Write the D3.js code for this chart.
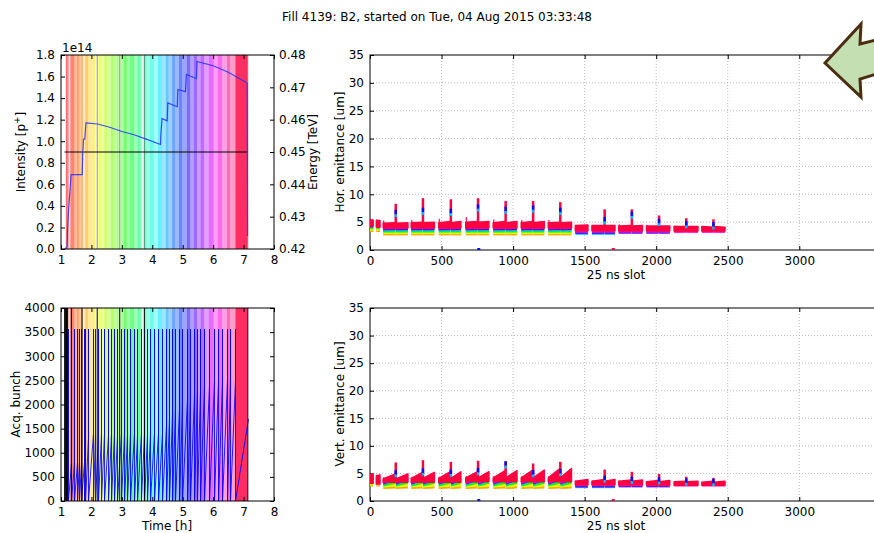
<!DOCTYPE html>
<html><head><meta charset="utf-8">
<script src="https://cdn.jsdelivr.net/npm/d3@7"></script>
<style>body{margin:0;background:#fff}svg{display:block}text{font-family:"DejaVu Sans",sans-serif;fill:#000}</style>
</head><body>
<svg id="c" width="874" height="533"></svg>
<script>
// ---------------- DATA ----------------
const titleText = "Fill 4139: B2, started on Tue, 04 Aug 2015 03:33:48";
// acquisition start times [h]
const acqTimes = [1.16,1.22,1.33,1.44,1.52,1.60,1.66,1.74,1.80,1.89,
  2.04,2.12,2.23,2.32,2.42,2.53,2.64,2.74,2.85,2.97,
  3.06,3.16,3.27,3.40,3.51,3.62,3.72,3.81,3.92,4.05,
  4.18,4.32,4.44,4.54,4.65,4.76,4.87,4.98,5.14,5.25,
  5.36,5.47,5.58,5.71,5.85,6.02,6.15,6.29,6.45,6.56,6.73];
const lastAcqEnd = 7.13;
// highest acquired bunch in each acquisition
const acqMaxSlot = [700,800,800,800,800,800,800,800,1300,1400,
  1400,1350,1400,1400,1350,1400,1400,1350,1400,1400,
  1350,1400,1400,1350,1400,1400,1350,1400,1400,1400,
  1400,1550,1700,1800,1900,1900,2000,2100,2100,2200,
  2300,2300,2400,2400,2500,2500,2500,2500,2500,2500,1700];
const pauseStart = [1.26, 1.73, 2.13, 2.89, 3.66];
const pauseEnd   = [1.29, 1.77, 2.19, 2.96, 3.72];
const markTimes  = [1.12,1.14,1.16,1.18,1.21,1.34,1.69,2.19,2.93,3.74,7.14];
// beam intensity [1e14 p]
const intTime = [1.12,1.20,1.22,1.25,1.29,1.33,1.70,1.71,1.74,1.78,1.82,2.2,2.6,3.0,3.4,3.8,4.27,4.28,4.32,4.49,4.51,4.82,4.84,5.09,5.12,5.45,5.47,6.0,6.5,7.12,7.13];
const intVal  = [0.0,0.02,0.2,0.37,0.52,0.69,0.69,0.85,1.02,1.02,1.17,1.16,1.13,1.09,1.06,1.02,0.97,1.05,1.21,1.19,1.355,1.32,1.48,1.46,1.62,1.58,1.74,1.70,1.64,1.54,0.12];
const energyTime = [1.12, 7.15];
const energyVal  = [0.45, 0.45];
// axis ticks
const intTicks = [0,0.2,0.4,0.6,0.8,1.0,1.2,1.4,1.6,1.8];
const energyTicks = [0.42,0.43,0.44,0.45,0.46,0.47,0.48];
const timeTicks = [1,2,3,4,5,6,7,8];
const bunchTicks = [0,500,1000,1500,2000,2500,3000,3500,4000];
const slotTicks = [0,500,1000,1500,2000,2500,3000];
const emitTicks = [0,5,10,15,20,25,30,35];
// bunch trains (25 ns slots)
const trainStart = [0,44,92,288,480,669,861,1057,1246,1435,1551,1738,1932,2125,2319];
const trainEnd   = [22,70,265,450,635,831,1027,1218,1408,1523,1712,1904,2095,2292,2481];
const trainGroup = ["p","p","e","e","e","e","e","e","e","l","l","l","l","l","l"];
const trainInjection = [1.20,1.30,1.75,1.76,1.77,1.78,1.79,1.80,1.80,4.27,4.30,4.50,4.80,5.10,5.45];
const spikeSlot = [null,null,180,370,565,755,948,1140,1330,null,1640,1830,2020,2210,2400];
// emittance layers: acquisition time of each colored layer
const layerTime = [1.80, 2.23, 3.06, 4.32, 4.98, 6.15];
const topLayerTime = 6.73;
// horizontal emittance [um]
const hLayerPilot      = [3.5,3.75,4.0,4.2,4.35,4.5];
const hLayerEarlyStart = [2.9,3.15,3.4,3.6,3.8,3.95];
const hLayerEarlyEnd   = [2.9,3.15,3.4,3.65,3.85,4.0];
const hLayerLate       = [null,null,null,3.0,3.2,3.35];
const hRedLo   = [4.2,4.1,3.95,3.95,3.95,3.95,3.95,3.95,3.95,3.45,3.45,3.45,3.45,3.4,3.4];
const hRedHiS  = [5.4,5.3,4.8,4.9,4.9,5.0,4.9,4.9,4.9,4.4,4.4,4.3,4.3,4.2,4.2];
const hRedHiE  = [5.4,5.3,4.9,5.0,5.1,5.1,5.1,5.1,5.0,4.5,4.4,4.4,4.3,4.2,4.1];
const hHead    = [5.6,5.5,5.3,5.4,5.6,5.9,5.5,5.4,5.4,4.5,4.5,4.6,4.5,4.4,4.3];
const hSpikeTop  = [null,null,8.3,9.3,9.1,9.3,8.8,8.8,8.6,null,7.3,7.3,6.2,5.7,5.5];
const hSpikeBlue = [null,null,6.8,7.2,7.0,7.8,7.4,7.6,7.2,null,5.5,6.5,5.2,4.8,4.6];
// vertical emittance [um]
const vLayerPilot      = [2.9,3.1,3.3,3.5,3.7,3.9];
const vLayerEarlyStart = [2.45,2.7,2.9,3.1,3.25,3.35];
const vLayerEarlyEnd   = [2.55,2.9,3.4,3.8,4.1,4.3];
const vLayerLate       = [null,null,null,2.6,2.75,2.9];
const vRedLo   = [3.2,3.1,3.4,3.4,3.4,3.5,3.5,3.5,3.5,2.95,2.95,2.95,2.9,2.85,2.85];
const vRedHiS  = [4.8,4.6,4.0,4.1,4.1,4.2,4.2,4.2,4.2,3.6,3.6,3.6,3.5,3.5,3.4];
const vRedHiE  = [4.9,4.7,4.9,5.2,5.3,5.3,5.5,5.6,5.9,3.9,3.9,3.8,3.7,3.6,3.6];
const vHead    = [4.9,4.7,4.3,4.4,4.4,4.5,4.5,4.5,4.5,3.7,3.7,3.7,3.6,3.5,3.4];
const vSpikeTop  = [null,null,7.0,7.4,7.1,7.3,7.2,6.8,7.1,null,5.7,5.3,4.9,4.4,4.2];
const vSpikeBlue = [null,null,5.2,5.5,5.3,5.6,6.8,5.2,5.4,null,4.2,4.0,3.9,3.7,3.6];
// stray zero readings
const zeroSlot = [760, 1700];
const zeroTime = [4.98, 6.73];

// ---------------- DRAW ----------------
const svg = d3.select("#c");
const hueScale = d3.scaleLinear().domain([acqTimes[0], acqTimes[acqTimes.length-1]]).range([0,345]);
const col = t => d3.hsl(hueScale(t), 1, 0.5).formatHex();

svg.append("text").attr("x",437).attr("y",21).attr("text-anchor","middle").attr("font-size",12).text(titleText);

// scales
const xT = d3.scaleLinear().domain([1,8]).range([61,274]);
const yI = d3.scaleLinear().domain([0,1.8]).range([249,55]);
const yE = d3.scaleLinear().domain([0.42,0.48]).range([249,55]);
const yB = d3.scaleLinear().domain([0,4000]).range([501,308]);
const xS = d3.scaleLinear().domain([0,3564]).range([370,880]);
const yH = d3.scaleLinear().domain([0,35]).range([250,55]);
const yV = d3.scaleLinear().domain([0,35]).range([501,308]);

function clip(id, x0, y0, x1, y1){
  svg.append("clipPath").attr("id",id).append("rect").attr("x",x0).attr("y",y0).attr("width",x1-x0).attr("height",y1-y0);
}
clip("cTL",61,55,274,249); clip("cBL",61,308,274,501); clip("cTR",370,55,880,250); clip("cBR",370,308,880,501);

function styleAxis(g, fs){
  g.select(".domain").remove();
  g.selectAll("text").attr("font-size",fs).attr("font-family","DejaVu Sans").attr("fill","#000");
  g.selectAll("line").attr("stroke","#000");
}
function axes(x, y, fmtX, fmtY, xt, yt, grid){
  const [x0,x1] = x.range(), [y1,y0] = y.range();
  if (grid){
    const gg = svg.append("g").attr("stroke","#aaa").attr("stroke-width",0.8).attr("stroke-dasharray","1,2");
    xt.forEach(v=>{ if(v>x.domain()[0]) gg.append("line").attr("x1",x(v)).attr("x2",x(v)).attr("y1",y0).attr("y2",y1); });
    yt.forEach(v=>{ if(v>y.domain()[0] && v<y.domain()[1]) gg.append("line").attr("x1",x0).attr("x2",x1).attr("y1",y(v)).attr("y2",y(v)); });
  }
  const b = svg.append("g").attr("transform",`translate(0,${y1})`).call(d3.axisBottom(x).tickValues(xt).tickFormat(fmtX).tickSizeInner(-4).tickSizeOuter(0).tickPadding(6));
  styleAxis(b,12);
  const t = svg.append("g").attr("transform",`translate(0,${y0})`).call(d3.axisTop(x).tickValues(xt).tickFormat("").tickSizeInner(-4).tickSizeOuter(0));
  styleAxis(t,12);
  const l = svg.append("g").attr("transform",`translate(${x0},0)`).call(d3.axisLeft(y).tickValues(yt).tickFormat(fmtY).tickSizeInner(-4).tickSizeOuter(0).tickPadding(6));
  styleAxis(l,12);
  svg.append("rect").attr("x",x0).attr("y",y0).attr("width",x1-x0).attr("height",y1-y0).attr("fill","none").attr("stroke","#000").attr("stroke-width",1);
}

// ---- left panels: acquisition bands ----
function bands(g, y){
  const [y1,y0] = y.range();
  acqTimes.forEach((t,i)=>{
    const tn = i < acqTimes.length-1 ? acqTimes[i+1] : lastAcqEnd;
    const last = i === acqTimes.length-1;
    g.append("rect").attr("x",xT(t)).attr("width",xT(tn)-xT(t)).attr("y",y0).attr("height",y1-y0)
      .attr("fill",col(t)).attr("fill-opacity", last ? 0.82 : (i%2 ? 0.38 : 0.58));
  });
  pauseStart.forEach((p,i)=>{
    g.append("rect").attr("x",xT(p)).attr("width",xT(pauseEnd[i])-xT(p)).attr("y",y0).attr("height",y1-y0).attr("fill","#fff").attr("fill-opacity",0.85);
  });
}
// top-left
const gTL = svg.append("g").attr("clip-path","url(#cTL)");
bands(gTL, yI);
markTimes.slice(7).forEach(t=>gTL.append("line").attr("x1",xT(t)).attr("x2",xT(t)).attr("y1",55).attr("y2",249).attr("stroke","#333").attr("stroke-opacity",0.5));
gTL.append("path").datum(energyTime.map((t,i)=>[t,energyVal[i]]))
  .attr("d",d3.line().x(d=>xT(d[0])).y(d=>yE(d[1]))).attr("fill","none").attr("stroke","#000").attr("stroke-width",1);
gTL.append("path").datum(intTime.map((t,i)=>[t,intVal[i]]))
  .attr("d",d3.line().x(d=>xT(d[0])).y(d=>yI(d[1]))).attr("fill","none").attr("stroke","#2030ff").attr("stroke-width",1.2).attr("stroke-opacity",0.85);
axes(xT, yI, d3.format("d"), d3.format(".1f"), timeTicks, intTicks, false);
const r = svg.append("g").attr("transform","translate(274,0)").call(d3.axisRight(yE).tickValues(energyTicks).tickFormat(d3.format(".2f")).tickSizeInner(-4).tickSizeOuter(0).tickPadding(5));
styleAxis(r,12);
svg.append("text").attr("x",62).attr("y",52).attr("font-size",12).text("1e14");
svg.append("text").attr("transform","translate(25,152) rotate(-90)").attr("text-anchor","middle").attr("font-size",12)
  .html('Intensity [p<tspan baseline-shift="super" font-size="9">+</tspan>]');
svg.append("text").attr("transform","translate(317,152) rotate(-90)").attr("text-anchor","middle").attr("font-size",12).text("Energy [TeV]");

// bottom-left
const gBL = svg.append("g").attr("clip-path","url(#cBL)");
bands(gBL, yB);
const pts = [];
acqTimes.forEach((t,i)=>{
  const tn = i < acqTimes.length-1 ? acqTimes[i+1] : lastAcqEnd;
  pts.push([t,3564],[t,0],[tn, acqMaxSlot[i]]);
});
gBL.append("path").datum(pts).attr("d",d3.line().x(d=>Math.round(xT(d[0]))+0.5).y(d=>yB(d[1])))
  .attr("fill","none").attr("stroke","#0000ff").attr("stroke-width",1).attr("stroke-opacity",0.85);
markTimes.forEach(t=>gBL.append("line").attr("x1",xT(t)).attr("x2",xT(t)).attr("y1",308).attr("y2",501).attr("stroke","#000").attr("stroke-width",1));
axes(xT, yB, d3.format("d"), d3.format("d"), timeTicks, bunchTicks, false);
const r2 = svg.append("g").attr("transform","translate(274,0)").call(d3.axisRight(yB).tickValues(bunchTicks).tickFormat("").tickSizeInner(-4).tickSizeOuter(0));
styleAxis(r2,12);
svg.append("text").attr("transform","translate(20,404) rotate(-90)").attr("text-anchor","middle").attr("font-size",12).text("Acq. bunch");
svg.append("text").attr("x",167).attr("y",530).attr("text-anchor","middle").attr("font-size",12).text("Time [h]");

// ---- right panels: emittance ----
function emittance(clipId, y, L){
  const g = svg.append("g").attr("clip-path",`url(#${clipId})`);
  const redC = col(topLayerTime);
  trainStart.forEach((s,k)=>{
    const grp = trainGroup[k];
    const e = trainEnd[k];
    const sp = spikeSlot[k];
    const batches = sp ? [[s, sp-3],[sp, e]] : [[s, e]];
    layerTime.forEach((lt,li)=>{
      if (lt < trainInjection[k]) return;
      let v0, v1;
      if (grp==="p"){ v0 = v1 = L.pilot[li]; }
      else if (grp==="e"){ v0 = L.earlyS[li]; v1 = L.earlyE[li]; }
      else { v0 = v1 = L.late[li]; }
      if (v0 == null) return;
      batches.forEach(b=>{
        g.append("line").attr("x1",xS(b[0])).attr("x2",xS(b[1])).attr("y1",y(v0)).attr("y2",y(v1))
          .attr("stroke",col(lt)).attr("stroke-width",3);
      });
    });
    batches.forEach(b=>{
      g.append("path").attr("d",`M${xS(b[0])},${y(L.lo[k])}L${xS(b[0])},${y(L.hiS[k])}L${xS(b[1])},${y(L.hiE[k])}L${xS(b[1])},${y(L.lo[k])}Z`)
        .attr("fill",redC).attr("stroke",redC).attr("stroke-width",1.5).attr("stroke-linejoin","round");
    });
    g.append("rect").attr("x",xS(s)).attr("width",xS(s+8)-xS(s)).attr("y",y(L.head[k])).attr("height",y(L.lo[k])-y(L.head[k])).attr("fill",redC);
    if (sp && L.spTop[k]!=null){
      g.append("line").attr("x1",xS(sp)).attr("x2",xS(sp)).attr("y1",y(L.hiS[k])).attr("y2",y(L.spTop[k])).attr("stroke",redC).attr("stroke-width",2.5);
      g.append("line").attr("x1",xS(sp)).attr("x2",xS(sp)).attr("y1",y(L.spBlue[k]-0.4)).attr("y2",y(L.spBlue[k]+0.4)).attr("stroke",col(4.98)).attr("stroke-width",2.5);
      g.append("line").attr("x1",xS(sp)).attr("x2",xS(sp)).attr("y1",y(L.spBlue[k]-0.9)).attr("y2",y(L.spBlue[k]-0.4)).attr("stroke",col(4.32)).attr("stroke-width",2.5);
    }
  });
  zeroSlot.forEach((z,i)=>{
    g.append("rect").attr("x",xS(z)-1.5).attr("width",3).attr("y",y(0)-2).attr("height",3).attr("fill",col(zeroTime[i]));
  });
}
axes(xS, yH, d3.format("d"), d3.format("d"), slotTicks, emitTicks, true);
emittance("cTR", yH, {pilot:hLayerPilot, earlyS:hLayerEarlyStart, earlyE:hLayerEarlyEnd, late:hLayerLate,
  lo:hRedLo, hiS:hRedHiS, hiE:hRedHiE, head:hHead, spTop:hSpikeTop, spBlue:hSpikeBlue});
svg.append("text").attr("transform","translate(344,152) rotate(-90)").attr("text-anchor","middle").attr("font-size",12).text("Hor. emittance [um]");
svg.append("text").attr("x",616).attr("y",279).attr("text-anchor","middle").attr("font-size",12).text("25 ns slot");

axes(xS, yV, d3.format("d"), d3.format("d"), slotTicks, emitTicks, true);
emittance("cBR", yV, {pilot:vLayerPilot, earlyS:vLayerEarlyStart, earlyE:vLayerEarlyEnd, late:vLayerLate,
  lo:vRedLo, hiS:vRedHiS, hiE:vRedHiE, head:vHead, spTop:vSpikeTop, spBlue:vSpikeBlue});
svg.append("text").attr("transform","translate(344,404) rotate(-90)").attr("text-anchor","middle").attr("font-size",12).text("Vert. emittance [um]");
svg.append("text").attr("x",616).attr("y",530).attr("text-anchor","middle").attr("font-size",12).text("25 ns slot");

// ---- annotation arrow ----
svg.append("polygon").attr("points","825,63 861,24 860,44 880,39 880,73 860,79 861,97")
  .attr("fill","#c4dfb2").attr("stroke","#4b2d12").attr("stroke-width",3).attr("stroke-linejoin","miter");
</script>
</body></html>
